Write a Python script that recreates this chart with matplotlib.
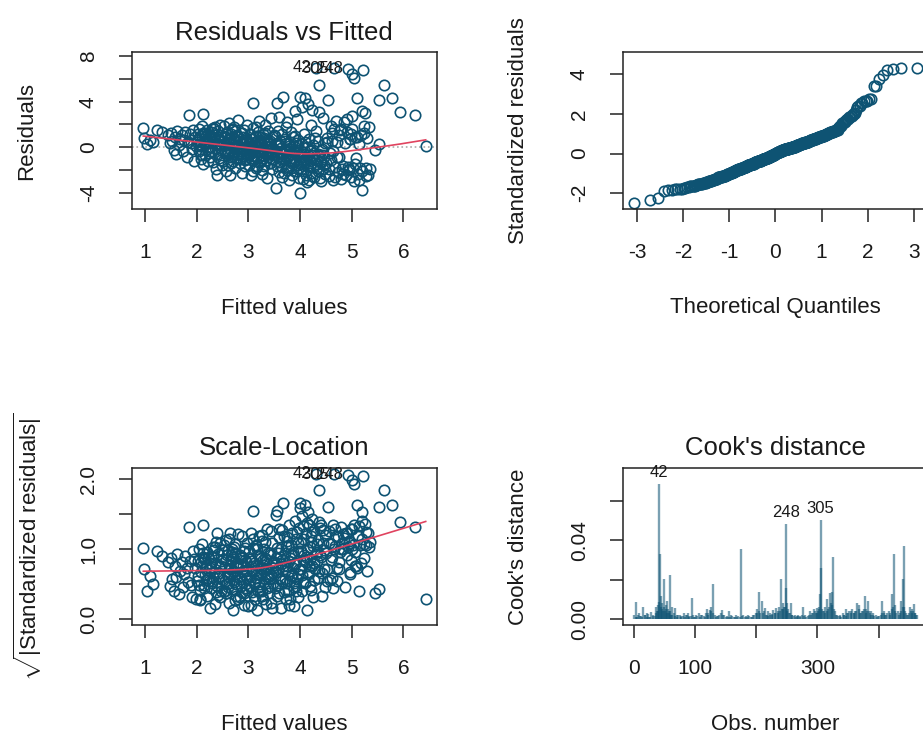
import numpy as np
import matplotlib
matplotlib.use('Agg')
import matplotlib.pyplot as plt
from statistics import NormalDist

# fitted values / residuals
fitted = [
    0.97, 0.98, 1.04, 1.09, 1.16, 1.23, 1.34, 1.44, 1.49,
    1.51, 1.53, 1.56, 1.58, 1.61, 1.63, 1.66, 1.68, 1.71, 1.73,
    1.76, 1.78, 1.81, 1.83, 1.86, 1.87, 1.89, 1.91, 1.93, 1.95,
    1.97, 1.99,
    2.02, 2.04, 2.05, 2.07, 2.08, 2.10, 2.11, 2.12, 2.13, 2.14,
    2.16, 2.17, 2.18, 2.20, 2.21, 2.22, 2.24, 2.25, 2.26, 2.27,
    2.29, 2.30, 2.31, 2.32, 2.34, 2.35, 2.36, 2.37, 2.38, 2.40,
    2.41, 2.42, 2.43, 2.44, 2.45, 2.46, 2.47, 2.48, 2.49, 2.03,
    2.01, 2.06, 2.09, 2.15, 2.19, 2.23, 2.28, 2.33, 2.39, 2.44,
    2.06, 2.12, 2.18, 2.24, 2.31, 2.36, 2.42, 2.47, 2.26, 2.15,
    2.51, 2.52, 2.53, 2.54, 2.55, 2.56, 2.57, 2.58, 2.59, 2.60,
    2.61, 2.62, 2.63, 2.64, 2.65, 2.66, 2.67, 2.68, 2.69, 2.70,
    2.71, 2.72, 2.73, 2.74, 2.75, 2.76, 2.77, 2.78, 2.79, 2.80,
    2.81, 2.82, 2.83, 2.84, 2.85, 2.86, 2.87, 2.88, 2.89, 2.90,
    2.91, 2.92, 2.93, 2.94, 2.95, 2.96, 2.97, 2.98, 2.99, 2.55,
    2.62, 2.70, 2.77, 2.84, 2.90, 2.97, 2.66, 2.73, 2.81, 2.93,
    2.53, 2.57, 2.61, 2.64, 2.68, 2.72, 2.75, 2.79, 2.83, 2.86,
    2.88, 2.92, 2.95, 2.59, 2.98,
    3.01, 3.02, 3.03, 3.04, 3.05, 3.06, 3.07, 3.08, 3.09, 3.10,
    3.11, 3.12, 3.13, 3.14, 3.15, 3.16, 3.17, 3.18, 3.19, 3.20,
    3.21, 3.22, 3.23, 3.24, 3.25, 3.26, 3.27, 3.28, 3.29, 3.30,
    3.31, 3.32, 3.33, 3.34, 3.35, 3.36, 3.37, 3.38, 3.39, 3.40,
    3.41, 3.42, 3.43, 3.44, 3.45, 3.46, 3.47, 3.48, 3.49, 3.05,
    3.12, 3.18, 3.24, 3.30, 3.36, 3.42, 3.47, 3.15, 3.27, 3.39,
    3.03, 3.07, 3.11, 3.14, 3.17, 3.21, 3.26, 3.29, 3.33, 3.38,
    3.41, 3.44, 3.48, 3.09, 3.22,
    3.51, 3.52, 3.53, 3.54, 3.55, 3.56, 3.57, 3.58, 3.59, 3.60,
    3.61, 3.62, 3.63, 3.64, 3.65, 3.66, 3.67, 3.68, 3.69, 3.70,
    3.71, 3.72, 3.73, 3.74, 3.75, 3.76, 3.77, 3.78, 3.79, 3.80,
    3.81, 3.82, 3.83, 3.84, 3.85, 3.86, 3.87, 3.88, 3.89, 3.90,
    3.91, 3.92, 3.93, 3.94, 3.95, 3.96, 3.97, 3.98, 3.99, 3.57,
    3.64, 3.72, 3.80, 3.88, 3.96,
    3.53, 3.56, 3.59, 3.62, 3.66, 3.69, 3.71, 3.74, 3.77, 3.79,
    3.83, 3.86, 3.90, 3.93, 3.97,
    4.00, 4.00, 4.01, 4.02, 4.03, 4.04, 4.05, 4.06, 4.07, 4.08,
    4.10, 4.11, 4.12, 4.13, 4.14, 4.15, 4.16, 4.17, 4.18, 4.19,
    4.20, 4.21, 4.22, 4.23, 4.24, 4.25, 4.26, 4.27, 4.28, 4.30,
    4.31, 4.32, 4.33, 4.34, 4.35, 4.36, 4.36, 4.37, 4.38, 4.40,
    4.42, 4.44, 4.45, 4.47, 4.49,
    4.01, 4.03, 4.06, 4.09, 4.11, 4.14, 4.17, 4.19, 4.22, 4.24,
    4.27, 4.29, 4.32, 4.35, 4.38, 4.41, 4.43, 4.46, 4.48, 4.05,
    4.51, 4.53, 4.55, 4.56, 4.58, 4.60, 4.62, 4.64, 4.65, 4.66,
    4.68, 4.70, 4.72, 4.74, 4.76, 4.78, 4.80, 4.82, 4.84, 4.86,
    4.88, 4.90, 4.92, 4.93, 4.95, 4.96, 4.98, 4.99,
    4.52, 4.57, 4.61, 4.63, 4.67, 4.71, 4.75, 4.79, 4.83, 4.87,
    4.91, 4.94, 4.97, 4.59,
    5.00, 5.00, 5.02, 5.04, 5.05, 5.06, 5.08, 5.10, 5.12, 5.14,
    5.16, 5.18, 5.20, 5.22, 5.20, 5.24, 5.25, 5.28, 5.30, 5.33,
    5.36, 5.45,
    5.01, 5.07, 5.11, 5.15, 5.19, 5.23, 5.27, 5.32,
    5.52, 5.52, 5.62, 5.78, 5.94, 6.23, 6.43,
]
residuals = [
    1.66, 0.83, 0.27, 0.62, 0.41, 1.52, 1.33, 1.07, 0.36,
    1.23, 0.54, -0.27, 0.93, -0.58, 1.42, 0.21, 0.76, 1.08, -0.34,
    0.67, 1.31, -0.88, 0.45, 2.82, 1.12, 0.38, -0.16, 1.53, -1.21,
    0.87, 0.14,
    0.62, -0.38, 1.64, 0.13, -1.07, 0.94, 1.87, -1.45, 2.95, 0.33,
    -0.66, 1.22, 0.52, -0.17, 1.48, -1.23, 0.81, 0.04, -0.86, 1.31,
    0.43, -0.47, 1.72, -1.28, 0.73, -0.08, 1.03, -1.96, 0.24, -2.47,
    1.41, -0.57, 0.63, -0.93, 1.91, 0.16, -0.26, 0.92, -1.57, 1.12,
    0.47, 0.28, -0.72, 1.18, 0.85, 0.57, -0.33, 1.56, 0.36, 0.71,
    -0.12, 1.27, 0.96, -0.48, 0.58, 1.74, 0.19, -1.12, 1.06, 0.39,
    0.52, -1.18, 1.83, -0.27, 0.91, -2.06, 0.23, 1.34, -0.68, 0.62,
    -1.57, 2.12, -0.09, 0.84, -2.48, 1.13, -0.87, 0.31, 1.62, -1.26,
    0.03, 0.72, -0.46, 1.43, -1.87, 0.42, -0.18, 1.04, -0.97, 0.14,
    2.41, -0.58, 0.53, -1.36, 1.22, -0.37, 0.24, -2.27, 0.93, -0.77,
    1.52, -0.07, 0.64, -1.66, 0.33, -1.07, 1.91, -0.28, 0.06, -0.48,
    0.44, -0.76, 0.94, -0.16, 0.46, -0.56, -1.37, 1.73, -0.86, -1.16,
    0.27, 1.17, -0.34, 0.68, 1.47, -0.62, 0.12, 0.87, -1.02, 0.37,
    1.28, -0.23, 0.78, -0.41, 0.55,
    0.36, -1.54, 1.18, -0.63, 0.07, -2.43, 0.76, -0.24, 1.66, 3.85,
    -1.04, 0.47, -0.44, 0.97, -1.83, -0.03, 0.56, -0.94, 1.37, -0.34,
    2.27, -1.33, 0.26, -0.73, 0.86, -2.04, 0.17, -0.13, 1.16, -1.64,
    0.46, -0.54, 1.96, -1.14, 0.08, -2.68, 0.66, -0.83, 1.46, -0.23,
    0.37, -1.43, 2.58, -0.64, -0.04, -1.93, 0.87, -0.43, 1.07, -0.93,
    -0.14, 0.27, -1.23, 0.77, -0.33, 0.57, -1.03, 1.77, -2.33, -0.63,
    -0.52, -1.12, 0.18, -0.81, -1.62, 0.42, -0.27, -0.96, 1.24, -0.58,
    -1.38, 0.09, -0.71, -2.12, 0.64,
    -0.32, 0.97, -3.60, -1.23, 3.85, 0.18, -0.84, 1.46, -2.23, 2.68,
    -0.53, 0.57, -1.64, -0.04, -2.63, 1.17, -0.93, 4.45, -0.24, 0.76,
    -1.43, -0.44, 1.78, -2.04, 2.21, -0.73, 0.27, -1.13, -2.92, 0.47,
    -0.14, -1.84, 1.36, -0.64, -2.43, 0.86, -1.34, 0.06, -0.34, 3.20,
    -1.04, 0.37, -2.14, -0.54, 2.52, -1.54, 0.67, -0.83, -2.72, 0.38,
    -1.02, -0.13, -1.24, -0.43, 0.16,
    -0.73, -1.67, 0.23, -1.28, -0.47, -2.28, 0.54, -0.92, -1.76, 0.07,
    -0.61, -1.48, 1.02, -0.26, -1.93,
    -4.05, 4.45, -0.83, -1.94, 0.27, 3.55, -2.84, -0.46, 1.12, -1.36,
    4.30, -1.07, -2.46, -0.03, -1.62, 3.80, -0.67, -2.93, 0.74, -1.18,
    -0.36, -2.27, 1.96, 3.30, -0.94, -1.78, 0.16, -2.64, -0.52, 6.98,
    1.42, -1.47, -1.13, -2.08, 0.56, 5.47, 3.10, -0.76, -2.74, -1.26,
    -0.17, -1.92, 2.60, -0.84, -2.36,
    -1.52, -0.64, -2.12, 0.43, -1.28, -3.06, -0.92, -1.71, -0.28, -2.53,
    -1.06, 0.82, -1.87, -0.57, -1.34, -2.96, -0.71, -1.58, 0.34, -1.16,
    -1.43, 0.47, 4.15, -2.54, -0.52, 1.86, 0.57, -2.93, 6.95, 1.64,
    -1.76, 2.27, -0.86, -2.23, 1.08, 1.48, -2.82, -1.94, -1.62, 2.18,
    -2.43, 2.48, 6.90, -1.73, -2.04, 0.73, 1.17, -2.66,
    0.82, -1.94, 1.28, -0.33, -2.67, 0.47, -0.84, 1.62, -2.38, 0.35,
    1.34, -1.92, 0.68, -1.14,
    6.40, 2.70, -1.83, -2.94, 6.05, 0.92, -0.93, 4.30, -2.33, 0.27,
    -1.84, 1.03, -3.80, 6.80, 3.20, 1.24, 3.00, -2.52, 0.78, 1.74,
    -1.95, -0.22,
    1.62, -1.47, 0.88, -2.86, -2.12, 1.86, -1.83, -2.47,
    4.15, 0.31, 5.47, 4.30, 3.10, 2.80, 0.14,
]
id_labels = ['42', '305', '248']   # three largest residuals
sigma_hat = 1.62                   # residual standard error

# Cook's distance, observations with visible bars
cook_obs = [
    1, 4, 6, 9, 12, 16, 19, 22, 25, 29, 32, 36, 38, 40, 41, 42, 43, 44, 45, 47,
    48, 50, 52, 54, 56, 59, 60, 62, 65, 68, 71, 75, 78, 82, 85, 88, 91, 95, 98, 102,
    106, 110, 114, 119, 122, 124, 127, 129, 132, 136, 140, 144, 148, 152, 155, 159, 163, 167, 171, 175,
    179, 183, 187, 191, 195, 199, 202, 204, 207, 209, 212, 214, 217, 220, 223, 226, 228, 231, 233, 236,
    238, 240, 242, 244, 246, 248, 249, 250, 252, 254, 256, 259, 263, 266, 269, 272, 276, 280, 284, 288,
    291, 294, 297, 299, 301, 303, 304, 305, 306, 308, 310, 313, 316, 318, 320, 322, 324, 325, 327, 330,
    334, 337, 341, 344, 347, 350, 352, 355, 357, 360, 363, 365, 368, 371, 374, 377, 379, 381, 383, 385,
    388, 391, 395, 399, 403, 406, 409, 412, 416, 419, 422, 423, 425, 427, 431, 434, 437, 439, 440, 441,
    443, 446, 449, 451, 454, 456, 458, 460, 462,
    3, 7, 11, 14, 18, 21, 24, 27, 31, 34, 37, 39, 46, 49, 51, 53, 55, 57, 58, 61,
    63, 67, 70, 73, 77, 80, 84, 87, 90, 93, 97, 100, 104, 108, 112, 116, 118, 121, 126, 130,
    134, 138, 142, 146, 150, 154, 157, 161, 165, 169, 173, 177, 181, 185, 189, 193, 197, 201, 205, 211,
    216, 219, 222, 225, 230, 235, 239, 243, 247, 251, 255, 258, 261, 265, 268, 271, 274, 278, 282, 286,
    290, 293, 296, 300, 302, 309, 312, 315, 319, 323, 328, 332, 336, 339, 343, 346, 349, 354, 359, 362,
    367, 370, 373, 376, 380, 384, 387, 390, 393, 397, 401, 405, 408, 411, 414, 418, 421, 426, 429, 433,
    436, 442, 445, 448, 452, 455, 459, 461,
]
cook_val = [
    0.002, 0.0088, 0.001, 0.003, 0.0015, 0.0062, 0.002, 0.003, 0.001, 0.0034,
    0.0015, 0.0062, 0.004, 0.007, 0.0088, 0.0687, 0.033, 0.012, 0.006, 0.008,
    0.004, 0.0206, 0.007, 0.009, 0.005, 0.0225, 0.004, 0.006, 0.003, 0.0055,
    0.002, 0.002, 0.0015, 0.003, 0.002, 0.003, 0.0015, 0.011, 0.001, 0.002,
    0.003, 0.002, 0.0015, 0.005, 0.003, 0.0048, 0.006, 0.0177, 0.002, 0.0015,
    0.002, 0.0048, 0.002, 0.0015, 0.004, 0.002, 0.001, 0.002, 0.0015, 0.0358,
    0.002, 0.0015, 0.002, 0.001, 0.002, 0.003, 0.005, 0.0138, 0.003, 0.009,
    0.004, 0.0055, 0.002, 0.004, 0.003, 0.002, 0.0048, 0.003, 0.0055, 0.004,
    0.006, 0.0206, 0.005, 0.008, 0.006, 0.0483, 0.016, 0.008, 0.005, 0.003,
    0.008, 0.002, 0.002, 0.0015, 0.002, 0.0015, 0.006, 0.002, 0.0015, 0.004,
    0.003, 0.005, 0.003, 0.0055, 0.004, 0.006, 0.013, 0.0505, 0.026, 0.005,
    0.004, 0.003, 0.0105, 0.005, 0.0135, 0.008, 0.014, 0.0316, 0.005, 0.002,
    0.0015, 0.002, 0.003, 0.002, 0.005, 0.003, 0.004, 0.003, 0.005, 0.003,
    0.004, 0.008, 0.007, 0.003, 0.004, 0.012, 0.005, 0.004, 0.009, 0.003,
    0.004, 0.002, 0.002, 0.0015, 0.002, 0.009, 0.003, 0.002, 0.004, 0.003,
    0.013, 0.006, 0.0329, 0.004, 0.004, 0.003, 0.009, 0.006, 0.0206, 0.037,
    0.004, 0.002, 0.003, 0.006, 0.003, 0.004, 0.0075, 0.003, 0.002,
    0.001, 0.002, 0.0015, 0.001, 0.002, 0.0012, 0.0025, 0.001, 0.002, 0.0015,
    0.003, 0.004, 0.005, 0.006, 0.004, 0.005, 0.003, 0.004, 0.003, 0.002,
    0.002, 0.0015, 0.001, 0.002, 0.0012, 0.0015, 0.001, 0.002, 0.001, 0.0015,
    0.002, 0.001, 0.0015, 0.001, 0.002, 0.0012, 0.003, 0.002, 0.004, 0.003,
    0.001, 0.0015, 0.003, 0.002, 0.001, 0.0012, 0.001, 0.0015, 0.001, 0.0012,
    0.001, 0.0015, 0.001, 0.0012, 0.0015, 0.001, 0.002, 0.003, 0.004, 0.003,
    0.002, 0.0015, 0.002, 0.0025, 0.003, 0.003, 0.004, 0.005, 0.006, 0.004,
    0.003, 0.002, 0.0015, 0.001, 0.0015, 0.001, 0.002, 0.0015, 0.001, 0.002,
    0.002, 0.003, 0.004, 0.003, 0.005, 0.004, 0.006, 0.004, 0.006, 0.007,
    0.004, 0.002, 0.0015, 0.001, 0.002, 0.0015, 0.003, 0.004, 0.003, 0.004,
    0.005, 0.003, 0.004, 0.005, 0.003, 0.004, 0.002, 0.003, 0.0015, 0.001,
    0.0015, 0.003, 0.004, 0.002, 0.003, 0.002, 0.005, 0.007, 0.003, 0.002,
    0.004, 0.006, 0.003, 0.002, 0.004, 0.005, 0.003, 0.002,
]
n_obs = 462

pt_col = '#0e5373'
smooth_col = '#E0435F'
txt_col = '#1a1a1a'

plt.rcParams['font.family'] = 'Liberation Sans'
plt.rcParams['mathtext.fontset'] = 'custom'
plt.rcParams['mathtext.rm'] = 'Liberation Sans'
plt.rcParams['mathtext.it'] = 'Liberation Sans:italic'


def lowess(x, y, f=2/3, iters=3):
    # same idea as R's lowess(): local linear fit + robustness steps
    order = np.argsort(x)
    x = np.asarray(x, float)[order]
    y = np.asarray(y, float)[order]
    n = len(x)
    k = max(2, min(n, int(f * n + 1e-7)))
    fit = np.zeros(n)
    rob = np.ones(n)
    for _ in range(iters + 1):
        for i in range(n):
            d = np.abs(x - x[i])
            h = np.sort(d)[k - 1]
            u = np.clip(d / max(h, 1e-12), 0, 1)
            w = (1 - u ** 3) ** 3 * rob
            sw = w.sum()
            xm = (w * x).sum() / sw
            ym = (w * y).sum() / sw
            sxx = (w * (x - xm) ** 2).sum()
            b = (w * (x - xm) * (y - ym)).sum() / sxx if sxx > 1e-12 else 0.0
            fit[i] = ym + b * (x[i] - xm)
        res = y - fit
        cmad = 6 * np.median(np.abs(res))
        uu = np.clip(np.abs(res) / cmad, 0, 1)
        rob = (1 - uu ** 2) ** 2
    return x, fit


def r_range(lo, hi, f=0.04):
    d = hi - lo
    return lo - f * d, hi + f * d


W, H = 923, 737
fig = plt.figure(figsize=(W / 100, H / 100), dpi=100)


def px_axes(left, top, right, bottom):
    return fig.add_axes([left / W, 1 - bottom / H, (right - left) / W, (bottom - top) / H])


def fig_text(x, y, s, **kw):
    fig.text(x / W, 1 - y / H, s, color=txt_col, **kw)


def style(ax, xticks, xlabels, yticks, ylabels):
    ax.set_xticks(xticks)
    ax.set_xticklabels(xlabels)
    ax.set_yticks(yticks)
    ax.set_yticklabels(ylabels, rotation=90, va='center')
    ax.tick_params(direction='out', length=9.5, width=1.1, pad=15,
                   labelsize=15, color='#222222', labelcolor=txt_col)
    for s in ax.spines.values():
        s.set_linewidth(1.1)
        s.set_color('#222222')


assert len(fitted) == len(residuals)
assert len(cook_obs) == len(cook_val)

f = np.array(fitted)
r = np.array(residuals)
std_r = r / sigma_hat
top3 = np.argsort(-np.abs(r))[:3]
circ = dict(ls='none', marker='o', mfc='none', mec=pt_col, ms=7.5, mew=1.2)

# Residuals vs Fitted
ax1 = px_axes(132, 52, 437, 209)
ax1.axhline(0, color='#aaaaaa', ls=':', lw=1.2, zorder=1)
ax1.plot(f, r, **circ, zorder=2)
sx, sy = lowess(f, r)
ax1.plot(sx, sy, color=smooth_col, lw=1.2, zorder=3)
ylo, yhi = r_range(r.min(), r.max(), 0.08)
ax1.set_ylim(*r_range(ylo, yhi))
ax1.set_xlim(*r_range(f.min(), f.max()))
for i, lab in zip(top3, id_labels):
    ax1.annotate(lab, (f[i], r[i]), xytext=(-3, 0), textcoords='offset points',
                 ha='right', va='center', fontsize=12, color=txt_col)
style(ax1, [1, 2, 3, 4, 5, 6], ['1', '2', '3', '4', '5', '6'],
      [-4, -2, 0, 2, 4, 6, 8], ['-4', '', '0', '', '4', '', '8'])
fig_text(284, 40, 'Residuals vs Fitted', ha='center', va='baseline', fontsize=18.5)
fig_text(27, 131, 'Residuals', ha='center', va='center', rotation=90, fontsize=16)
fig_text(284, 308, 'Fitted values', ha='center', va='center', fontsize=16)

# Normal Q-Q
n = len(r)
theo = np.array([NormalDist().inv_cdf((i + 0.5) / n) for i in range(n)])
ax2 = px_axes(623, 52, 928, 209)
ax2.plot(theo, np.sort(std_r), **circ)
qlo, qhi = std_r.min(), std_r.max()
qhi = qhi + 0.075 * (qhi - qlo)
ax2.set_ylim(*r_range(qlo, qhi))
ax2.set_xlim(*r_range(theo.min(), theo.max()))
style(ax2, [-3, -2, -1, 0, 1, 2, 3], ['-3', '-2', '-1', '0', '1', '2', '3'],
      [-2, 0, 2, 4], ['-2', '0', '2', '4'])
fig_text(518, 131, 'Standardized residuals', ha='center', va='center', rotation=90, fontsize=16)
fig_text(775, 308, 'Theoretical Quantiles', ha='center', va='center', fontsize=16)

# Scale-Location
sq = np.sqrt(np.abs(std_r))
ax3 = px_axes(132, 468, 437, 625)
ax3.plot(f, sq, **circ, zorder=2)
lx, ly = lowess(f, sq)
ax3.plot(lx, ly, color=smooth_col, lw=1.2, zorder=3)
ax3.set_ylim(*r_range(0, sq.max()))
ax3.set_xlim(*r_range(f.min(), f.max()))
for i, lab in zip(top3, id_labels):
    ax3.annotate(lab, (f[i], sq[i]), xytext=(-3, 0), textcoords='offset points',
                 ha='right', va='center', fontsize=12, color=txt_col)
style(ax3, [1, 2, 3, 4, 5, 6], ['1', '2', '3', '4', '5', '6'],
      [0, 0.5, 1.0, 1.5, 2.0], ['0.0', '', '1.0', '', '2.0'])
fig_text(284, 455, 'Scale-Location', ha='center', va='baseline', fontsize=18.5)
fig_text(28, 547, r'$\sqrt{|\mathrm{Standardized\ residuals}|}$', ha='center', va='center',
         rotation=90, fontsize=16)
fig_text(284, 725, 'Fitted values', ha='center', va='center', fontsize=16)

# Cook's distance
co = np.array(cook_obs)
cv = np.array(cook_val)
ax4 = px_axes(623, 468, 928, 625)
ax4.vlines(co, 0, cv, color=pt_col, alpha=0.55, lw=1.7)
ax4.set_ylim(*r_range(0, cv.max() * 1.075))
ax4.set_xlim(*r_range(1, n_obs))
for i in np.argsort(-cv)[:3]:
    ax4.annotate(str(co[i]), (co[i], cv[i]), xytext=(0, 3), textcoords='offset points',
                 ha='center', va='bottom', fontsize=12, color=txt_col)
style(ax4, [0, 100, 200, 300, 400], ['0', '100', '', '300', ''],
      [0, 0.02, 0.04, 0.06], ['0.00', '', '0.04', ''])
fig_text(775, 455, "Cook's distance", ha='center', va='baseline', fontsize=18.5)
fig_text(518, 547, "Cook's distance", ha='center', va='center', rotation=90, fontsize=16)
fig_text(775, 725, 'Obs. number', ha='center', va='center', fontsize=16)

fig.savefig('out.png', dpi=100)
